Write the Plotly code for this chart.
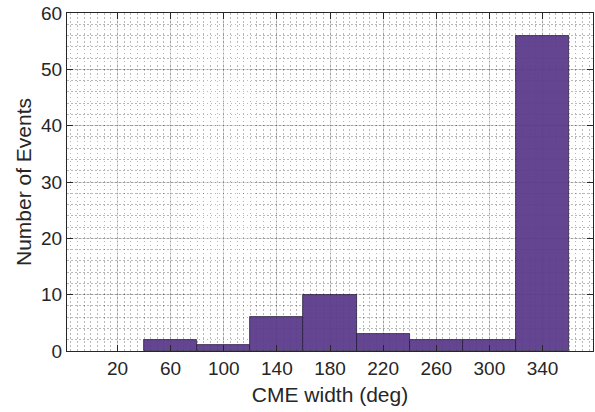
import plotly.graph_objects as go

bin_centers = [20, 60, 100, 140, 180, 220, 260, 300, 340]
counts = [0, 2, 1, 6, 10, 3, 2, 2, 56]
bin_width = 40
x_ticks = [20, 60, 100, 140, 180, 220, 260, 300, 340]
y_ticks = [0, 10, 20, 30, 40, 50, 60]

edge_widths = [0.8 if c > 0 else 0 for c in counts]

fig = go.Figure()
fig.add_trace(go.Bar(
    x=bin_centers, y=counts, width=[bin_width] * len(bin_centers),
    marker=dict(color="rgb(89,56,138)", line=dict(color="rgba(20,10,40,0.9)", width=edge_widths)),
    opacity=0.93,
))

font = "Liberation Sans, Arial, Helvetica, sans-serif"
axis_common = dict(
    showline=True, linecolor="#262626", linewidth=1.2, mirror="ticks",
    ticks="inside", ticklen=6, tickcolor="#262626", tickwidth=1.2,
    showgrid=True, gridcolor="rgba(0,0,0,0.15)", gridwidth=1,
    zeroline=False,
    tickfont=dict(family=font, size=19, color="#262626"),
)

fig.update_xaxes(
    range=[-18, 378], tickvals=x_ticks, ticktext=[str(v) for v in x_ticks],
    title=dict(text="CME width (deg)", font=dict(family=font, size=21, color="#262626"), standoff=9),
    minor=dict(dtick=5, tick0=0, showgrid=True, gridcolor="rgba(0,0,0,0.28)", griddash="1.5px,2.5px", gridwidth=1, ticks=""),
    **axis_common,
)
fig.update_yaxes(
    range=[0, 60], tickvals=y_ticks, ticktext=[str(v) for v in y_ticks],
    title=dict(text="Number of Events", font=dict(family=font, size=21, color="#262626"), standoff=3),
    minor=dict(dtick=2, tick0=0, showgrid=True, gridcolor="rgba(0,0,0,0.28)", griddash="1.5px,2.5px", gridwidth=1, ticks=""),
    **axis_common,
)

fig.update_layout(
    width=595, height=412,
    margin=dict(l=67, r=2, t=13, b=61),
    plot_bgcolor="white", paper_bgcolor="white",
    showlegend=False, bargap=0,
)

fig.write_html("out.html")
